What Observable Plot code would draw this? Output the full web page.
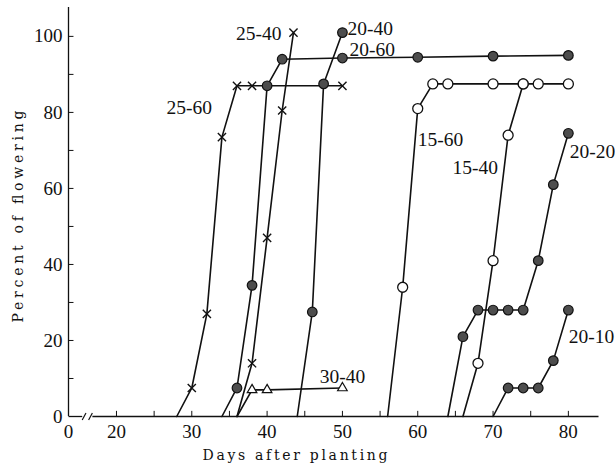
<!DOCTYPE html>
<html>
<head>
<meta charset="utf-8">
<script src="https://cdn.jsdelivr.net/npm/d3@7"></script>
<script src="https://cdn.jsdelivr.net/npm/@observablehq/plot@0.6"></script>
<style>
  body { margin: 0; background: #fff; }
  #chart svg { display: block; }
</style>
</head>
<body>
<div id="chart"></div>
<script>
// ---- Data ----
const seriesNames = ["25-60", "25-40", "20-60", "20-40", "30-40", "15-60", "15-40", "20-20", "20-10"];

const days_25_60 = [28, 30, 32, 34, 36, 38, 50];
const pct_25_60  = [0, 7.5, 27, 73.5, 87, 87, 87];

const days_25_40 = [36, 38, 40, 42, 43.5];
const pct_25_40  = [0, 14, 47, 80.5, 101];

const days_20_60 = [34, 36, 38, 40, 42, 50, 60, 70, 80];
const pct_20_60  = [0, 7.5, 34.5, 87, 94, 94.3, 94.5, 94.8, 95];

const days_20_40 = [44, 46, 47.5, 50];
const pct_20_40  = [0, 27.5, 87.5, 101];

const days_30_40 = [36, 38, 40, 50];
const pct_30_40  = [0, 7, 7, 7.5];

const days_15_60 = [56, 58, 60, 62, 64, 70, 74, 76, 80];
const pct_15_60  = [0, 34, 81, 87.5, 87.5, 87.5, 87.5, 87.5, 87.5];

const days_15_40 = [66, 68, 70, 72, 74];
const pct_15_40  = [0, 14, 41, 74, 87.5];

const days_20_20 = [64, 66, 68, 70, 72, 74, 76, 78, 80];
const pct_20_20  = [0, 21, 28, 28, 28, 28, 41, 61, 74.5];

const days_20_10 = [70, 72, 74, 76, 78, 80];
const pct_20_10  = [0, 7.5, 7.5, 7.5, 14.7, 28];

const xTickLabels = [20, 30, 40, 50, 60, 70, 80];
const xMinorTicks = [20, 25, 30, 35, 40, 45, 50, 55, 60, 65, 70, 75, 80];
const yTickLabels = [0, 20, 40, 60, 80, 100];
const yMinorTicks = [10, 20, 30, 40, 50, 60, 70, 80, 90, 100];

const xTitle = "Days after planting";
const yTitle = "Percent of flowering";

// ---- Build table ----
const seriesData = {
  "25-60": [days_25_60, pct_25_60],
  "25-40": [days_25_40, pct_25_40],
  "20-60": [days_20_60, pct_20_60],
  "20-40": [days_20_40, pct_20_40],
  "30-40": [days_30_40, pct_30_40],
  "15-60": [days_15_60, pct_15_60],
  "15-40": [days_15_40, pct_15_40],
  "20-20": [days_20_20, pct_20_20],
  "20-10": [days_20_10, pct_20_10]
};
const rows = seriesNames.flatMap(name => {
  const [d, p] = seriesData[name];
  return d.map((day, i) => ({series: name, day, pct: p[i]}));
});

// marker kinds
const markerKind = {
  "25-60": "times", "25-40": "times",
  "20-60": "dark", "20-40": "dark", "20-20": "dark", "20-10": "dark",
  "15-60": "open", "15-40": "open",
  "30-40": "tri"
};
const pts = kind => rows.filter(r => r.pct > 0 && markerKind[r.series] === kind);

// label placement: anchored at a data point of each series
const labelSpec = [
  {series: "25-40", idx: 4, anchor: "end",    dx: -12, dy: 1},
  {series: "20-40", idx: 3, anchor: "start",  dx: 5,   dy: -4},
  {series: "20-60", idx: 5, anchor: "start",  dx: 7,   dy: -8},
  {series: "25-60", idx: 3, anchor: "end",    dx: -10, dy: -29},
  {series: "15-60", idx: 2, anchor: "start",  dx: 0,   dy: 31},
  {series: "15-40", idx: 3, anchor: "end",    dx: -10, dy: 33},
  {series: "20-20", idx: 8, anchor: "start",  dx: 1.5, dy: 18},
  {series: "20-10", idx: 5, anchor: "start",  dx: 0.5, dy: 27},
  {series: "30-40", idx: 3, anchor: "middle", dx: 0,   dy: -11.5}
];
const labelRows = labelSpec.map(s => {
  const [d, p] = seriesData[s.series];
  return {...s, day: d[s.idx], pct: p[s.idx]};
});

const xMin = 13.63, xMax = 84, yMax = 107.6;
const ink = "#111";

const labelMarks = labelRows.map(l => Plot.text([l], {x: "day", y: "pct", text: "series",
  textAnchor: l.anchor, dx: l.dx, dy: l.dy, fontSize: 19.5, lineAnchor: "middle", fill: ink}));

const marks = [
  // axes lines
  Plot.ruleX([xMin], {y1: 0, y2: yMax, stroke: ink, strokeWidth: 1.3}),
  Plot.link([{a: xMin, b: 15.45}, {a: 16.8, b: xMax}], {x1: "a", x2: "b", y1: 0, y2: 0, stroke: ink, strokeWidth: 1.3}),
  // axis break slashes
  Plot.link([{a: 15.45}, {a: 16.3}], {x1: "a", x2: d => d.a + 0.5, y1: -0.9, y2: 0.9, stroke: ink, strokeWidth: 1.2}),
  // ticks
  Plot.ruleX(xMinorTicks, {y1: 0, y2: 1.35, stroke: ink, strokeWidth: 1}),
  Plot.link(yMinorTicks, {x1: xMin, x2: xMin + 0.66, y1: d => d, y2: d => d, stroke: ink, strokeWidth: 1}),
  Plot.axisX([xMin, ...xTickLabels], {tickSize: 0, tickPadding: 8, fontSize: 19, label: null,
    tickFormat: d => d === xMin ? "0" : String(d)}),
  Plot.axisY(yTickLabels, {tickSize: 0, tickPadding: 6, fontSize: 19, label: null}),
  // series lines
  Plot.line(rows, {x: "day", y: "pct", z: "series", stroke: ink, strokeWidth: 1.6}),
  // markers
  Plot.dot(pts("times"), {x: "day", y: "pct", symbol: "times", r: 3.8, stroke: ink, strokeWidth: 1.4}),
  Plot.dot(pts("dark"), {x: "day", y: "pct", r: 4.8, fill: "#4d4d4d", stroke: ink, strokeWidth: 1.2}),
  Plot.dot(pts("open"), {x: "day", y: "pct", r: 5, fill: "white", stroke: ink, strokeWidth: 1.3}),
  Plot.dot(pts("tri"), {x: "day", y: "pct", symbol: "triangle2", r: 4.6, fill: "white", stroke: ink, strokeWidth: 1.2}),
  // series labels
  ...labelMarks,
  // axis titles
  Plot.text([xTitle], {frameAnchor: "bottom-left", text: d => d, textAnchor: "start", dx: 134, dy: 39, fontSize: 14,
    fontFamily: "DejaVu Serif", lineAnchor: "middle", fill: ink}),
  Plot.text([yTitle], {frameAnchor: "left", text: d => d, textAnchor: "start", dx: -50, dy: 110.5, rotate: -90, fontSize: 14,
    fontFamily: "DejaVu Serif", lineAnchor: "middle", fill: ink})
];

const svg = Plot.plot({
  width: 615,
  height: 469,
  marginLeft: 68,
  marginRight: 17,
  marginTop: 7,
  marginBottom: 53,
  x: {domain: [xMin, xMax]},
  y: {domain: [0, yMax]},
  style: {fontFamily: "'Liberation Serif', serif", background: "white", color: ink, overflow: "visible"},
  marks
});

d3.select(svg).selectAll("text").filter(function() { return this.textContent === xTitle; })
  .attr("textLength", 185).attr("lengthAdjust", "spacing");
d3.select(svg).selectAll("text").filter(function() { return this.textContent === yTitle; })
  .attr("textLength", 212).attr("lengthAdjust", "spacing");

document.getElementById("chart").appendChild(svg);
</script>
</body>
</html>
